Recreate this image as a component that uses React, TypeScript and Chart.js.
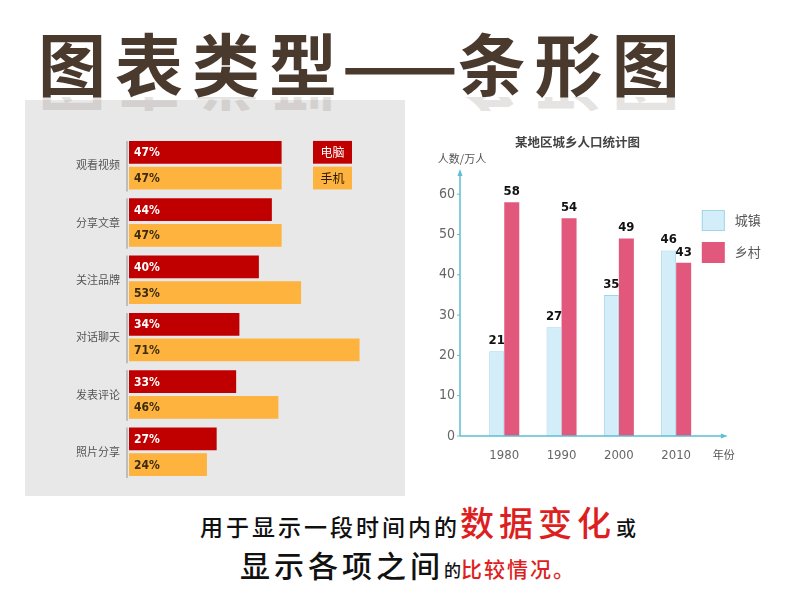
import React, { useEffect, useRef } from 'react';
import { Chart, registerables } from 'chart.js';

Chart.register(...registerables);

// ---- Left chart data ----
const activities = ['观看视频', '分享文章', '关注品牌', '对话聊天', '发表评论', '照片分享'];
const pcValues = [47, 44, 40, 34, 33, 27];
const phoneValues = [47, 47, 53, 71, 46, 24];
const deviceLabels = ['电脑', '手机'];

// ---- Right chart data ----
const years = ['1980', '1990', '2000', '2010'];
const urbanValues = [21, 27, 35, 46];
const ruralValues = [58, 54, 49, 43];
const popLabels = ['城镇', '乡村'];
const popTicks = [0, 10, 20, 30, 40, 50, 60];
const popTitle = '某地区城乡人口统计图';
const popYTitle = '人数/万人';
const popXTitle = '年份';

const CJK = '"Noto Sans CJK SC", sans-serif';
const NARROW = '"Liberation Sans Narrow", "DejaVu Sans Condensed", sans-serif';

const RED = '#c00000';
const ORANGE = '#fdb33d';
const CYAN = '#d3eef9';
const CYAN_BORDER = '#9fd6ea';
const PINK = '#e2587c';
const AXIS = '#5cbfd3';

function DeviceChart() {
  const ref = useRef<HTMLCanvasElement>(null);
  useEffect(() => {
    const labelsPlugin = {
      id: 'devLabels',
      afterDatasetsDraw(chart: any) {
        const ctx = chart.ctx;
        ctx.save();
        const m0 = chart.getDatasetMeta(0);
        const m1 = chart.getDatasetMeta(1);
        m0.data.forEach((el: any, j: number) => {
          const e1 = m1.data[j];
          const top = el.y - el.height / 2;
          const bot = e1.y + e1.height / 2 + 2;
          ctx.strokeStyle = '#bdbdbd';
          ctx.lineWidth = 2;
          ctx.beginPath();
          ctx.moveTo(chart.chartArea.left - 2, top);
          ctx.lineTo(chart.chartArea.left - 2, bot);
          ctx.stroke();
        });
        ctx.font = `bold 12px ${NARROW}`;
        ctx.textBaseline = 'middle';
        ctx.textAlign = 'left';
        [m0, m1].forEach((meta: any, i: number) => {
          const ds = chart.data.datasets[i];
          meta.data.forEach((el: any, j: number) => {
            ctx.fillStyle = i === 0 ? '#ffffff' : '#3a2a12';
            ctx.fillText(`${ds.data[j]}%`, el.base + 5, el.y + 1);
          });
        });
        const lx = chart.chartArea.left + 184;
        [m0, m1].forEach((meta: any, i: number) => {
          const el = meta.data[0];
          const h = el.height;
          const y = el.y - h / 2;
          ctx.fillStyle = i === 0 ? RED : ORANGE;
          ctx.fillRect(lx, y, 39, h);
          ctx.fillStyle = i === 0 ? '#ffffff' : '#2a1a08';
          ctx.font = `12px ${CJK}`;
          ctx.textAlign = 'center';
          ctx.fillText(deviceLabels[i], lx + 19.5, el.y);
        });
        ctx.restore();
      },
    };
    const chart = new Chart(ref.current as HTMLCanvasElement, {
      type: 'bar',
      data: {
        labels: activities,
        datasets: [
          { label: deviceLabels[0], data: pcValues, backgroundColor: RED },
          { label: deviceLabels[1], data: phoneValues, backgroundColor: ORANGE },
        ],
      },
      options: {
        indexAxis: 'y',
        animation: false,
        responsive: false,
        maintainAspectRatio: false,
        devicePixelRatio: 1,
        layout: { padding: { top: 36.5, bottom: 11.5, left: 0, right: 0 } },
        datasets: { bar: { categoryPercentage: 0.897, barPercentage: 0.885 } },
        plugins: { legend: { display: false }, tooltip: { enabled: false } },
        scales: {
          x: { display: false, min: 0, max: 85 },
          y: {
            grid: { display: false, drawTicks: false },
            border: { display: false },
            ticks: { padding: 9, color: '#555', font: { size: 11, family: CJK } },
            afterFit: (s: any) => { s.width = 104; },
          },
        },
      } as any,
      plugins: [labelsPlugin],
    });
    return () => chart.destroy();
  }, []);
  return <canvas ref={ref} width={380} height={396} style={{ position: 'absolute', left: 25, top: 100, width: 380, height: 396 }} />;
}

function PopulationChart() {
  const ref = useRef<HTMLCanvasElement>(null);
  useEffect(() => {
    const deco = {
      id: 'popDeco',
      afterDatasetsDraw(chart: any) {
        const ctx = chart.ctx;
        const { left, right, top, bottom } = chart.chartArea;
        const ax = left - 15.6;
        const xEnd = right + 22;
        ctx.save();
        ctx.strokeStyle = AXIS;
        ctx.fillStyle = AXIS;
        ctx.lineWidth = 1.5;
        ctx.beginPath();
        ctx.moveTo(ax, bottom);
        ctx.lineTo(ax, top + 2);
        ctx.moveTo(ax, bottom);
        ctx.lineTo(xEnd - 2, bottom);
        ctx.stroke();
        const ys = chart.scales.y;
        ctx.lineWidth = 1;
        popTicks.forEach((v) => {
          const py = ys.getPixelForValue(v);
          ctx.beginPath();
          ctx.moveTo(ax - 3, py);
          ctx.lineTo(ax, py);
          ctx.stroke();
        });
        ctx.beginPath();
        ctx.moveTo(ax, top - 1);
        ctx.lineTo(ax - 2.5, top + 6);
        ctx.lineTo(ax + 2.5, top + 6);
        ctx.closePath();
        ctx.fill();
        ctx.beginPath();
        ctx.moveTo(xEnd + 1, bottom);
        ctx.lineTo(xEnd - 6, bottom - 2.5);
        ctx.lineTo(xEnd - 6, bottom + 2.5);
        ctx.closePath();
        ctx.fill();

        ctx.fillStyle = '#111';
        ctx.font = `bold 13px ${NARROW}`;
        ctx.textAlign = 'center';
        ctx.textBaseline = 'bottom';
        [0, 1].forEach((i) => {
          const meta = chart.getDatasetMeta(i);
          const ds = chart.data.datasets[i];
          meta.data.forEach((el: any, j: number) => {
            ctx.fillText(String(ds.data[j]), el.x, el.y - 4);
          });
        });

        ctx.fillStyle = '#444';
        ctx.font = `bold 12.5px ${CJK}`;
        ctx.textBaseline = 'middle';
        ctx.fillText(popTitle, left + 102, 22);
        ctx.font = `11px ${CJK}`;
        ctx.fillStyle = '#555';
        ctx.fillText(popYTitle, ax + 2, top - 11);
        ctx.fillText(popXTitle, xEnd - 3, bottom + 19);

        const lx = right - 3;
        const boxes = [top + 40, top + 72];
        boxes.forEach((by, i) => {
          if (i === 0) {
            ctx.fillStyle = CYAN;
            ctx.fillRect(lx, by, 23, 21);
            ctx.strokeStyle = CYAN_BORDER;
            ctx.lineWidth = 1;
            ctx.strokeRect(lx + 0.5, by + 0.5, 22, 20);
          } else {
            ctx.fillStyle = PINK;
            ctx.fillRect(lx, by, 23, 21);
          }
          ctx.fillStyle = '#555';
          ctx.font = `13px ${CJK}`;
          ctx.textAlign = 'left';
          ctx.fillText(popLabels[i], lx + 33, by + 10.5);
        });
        ctx.restore();
      },
    };
    const chart = new Chart(ref.current as HTMLCanvasElement, {
      type: 'bar',
      data: {
        labels: years,
        datasets: [
          { label: popLabels[0], data: urbanValues, backgroundColor: CYAN, borderColor: CYAN_BORDER, borderWidth: 1 },
          { label: popLabels[1], data: ruralValues, backgroundColor: PINK },
        ],
      },
      options: {
        animation: false,
        responsive: false,
        maintainAspectRatio: false,
        devicePixelRatio: 1,
        layout: { padding: { top: 50, right: 85.2, left: 0, bottom: 0 } },
        datasets: { bar: { categoryPercentage: 0.524, barPercentage: 1 } },
        plugins: { legend: { display: false }, tooltip: { enabled: false } },
        scales: {
          x: {
            grid: { display: false, drawTicks: false },
            border: { display: false },
            ticks: { padding: 12, color: '#666', font: { size: 13, family: NARROW } },
            afterFit: (s: any) => { s.height = 44; },
          },
          y: {
            min: 0,
            max: 66,
            grid: { display: false, drawTicks: false },
            border: { display: false },
            ticks: { padding: 20.6, color: '#666', font: { size: 14, family: NARROW } },
            afterBuildTicks: (s: any) => { s.ticks = popTicks.map((v) => ({ value: v })); },
            afterFit: (s: any) => { s.width = 45.6; },
          },
        },
      } as any,
      plugins: [deco],
    });
    return () => chart.destroy();
  }, []);
  return <canvas ref={ref} width={360} height={360} style={{ position: 'absolute', left: 430, top: 120, width: 360, height: 360 }} />;
}

const titleChars = '图表类型';
const titleDash = '——';
const titleTail = '条形图';

function Title({ style }: { style: React.CSSProperties }) {
  return (
    <div style={{ position: 'absolute', left: 38, fontFamily: CJK, fontWeight: 700, fontSize: 68, lineHeight: '68px', color: '#4a3a2e', whiteSpace: 'nowrap', ...style }}>
      <span style={{ letterSpacing: 9 }}>{titleChars}</span>
      <span style={{ letterSpacing: -6, marginLeft: -4 }}>{titleDash}</span>
      <span style={{ letterSpacing: 9, marginLeft: 6 }}>{titleTail}</span>
    </div>
  );
}

export default function App() {
  return (
    <div style={{ position: 'absolute', left: 0, top: 0, width: 794, height: 596, background: '#fff', overflow: 'hidden' }}>
      <div style={{ position: 'absolute', left: 25, top: 100, width: 380, height: 396, background: '#e8e8e8' }} />
      <Title style={{ top: 28 }} />
      <div style={{ position: 'absolute', left: 0, top: 97, width: 794, height: 14, overflow: 'hidden', opacity: 0.13 }}>
        <Title style={{ top: -68 + 20, transform: 'scaleY(-1)' }} />
      </div>
      <DeviceChart />
      <PopulationChart />
      <div style={{ position: 'absolute', left: 200, top: 505, fontFamily: CJK, fontWeight: 500, color: '#111', whiteSpace: 'nowrap', lineHeight: 1 }}>
        <span style={{ fontSize: 23, letterSpacing: 3 }}>用于显示一段时间内的</span>
        <span style={{ fontSize: 34, letterSpacing: 5, color: '#dd1f1f' }}>数据变化</span>
        <span style={{ fontSize: 20 }}>或</span>
      </div>
      <div style={{ position: 'absolute', left: 240, top: 549, fontFamily: CJK, fontWeight: 500, color: '#111', whiteSpace: 'nowrap', lineHeight: 1 }}>
        <span style={{ fontSize: 30, letterSpacing: 4 }}>显示各项之间</span>
        <span style={{ fontSize: 17 }}>的</span>
        <span style={{ fontSize: 21, letterSpacing: 2, color: '#dd1f1f' }}>比较情况。</span>
      </div>
    </div>
  );
}
